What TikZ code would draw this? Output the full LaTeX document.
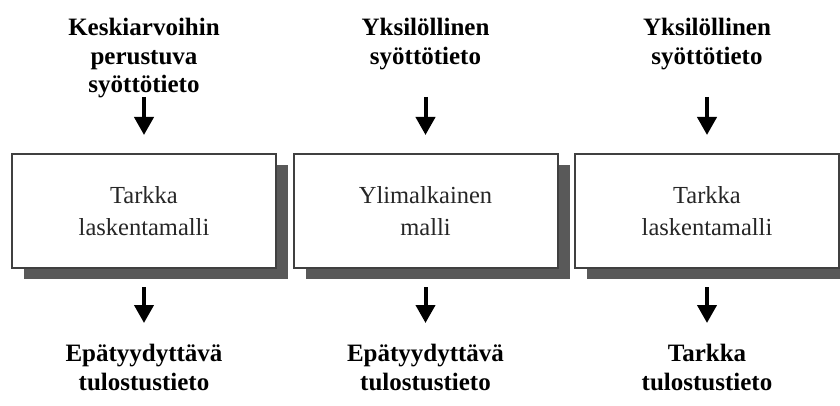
\documentclass[tikz,border=0pt]{standalone}
\usepackage{fontspec}
\setmainfont{Liberation Serif}
\usetikzlibrary{arrows.meta,shadows}

\begin{document}
\begin{tikzpicture}[x=1pt, y=1pt,
  model/.style={draw=black!75, line width=2pt, fill=white,
    minimum width=264pt, minimum height=114pt, align=center,
    text=black!85, font=\fontsize{24.5}{32}\selectfont,
    drop shadow={shadow xshift=12pt, shadow yshift=-11pt, fill=black!65, opacity=1}},
  data/.style={align=center, inner sep=0pt, text=black,
    font=\fontsize{25}{28.5}\selectfont\bfseries},
  flow/.style={line width=4pt, -{Triangle[width=19pt,length=18pt]}}]

  \useasboundingbox (0,0) rectangle (840,405);

  % one column per model: input, model, output
  \foreach \i/\cx/\intext/\boxtext/\outtext in {
    1/144/{Keskiarvoihin\\perustuva\\syöttötieto}/{Tarkka\\laskentamalli}/{Epätyydyttävä\\tulostustieto},
    2/425.5/{Yksilöllinen\\syöttötieto}/{Ylimalkainen\\malli}/{Epätyydyttävä\\tulostustieto},
    3/707/{Yksilöllinen\\syöttötieto}/{Tarkka\\laskentamalli}/{Tarkka\\tulostustieto}} {
    \node[model] (box\i) at (\cx,194) {\boxtext};
    \node[data, anchor=north] (in\i) at (\cx,387) {\intext};
    \node[data, anchor=north] (out\i) at (\cx,61) {\outtext};
    \coordinate (src\i) at (\cx,308);
    \coordinate (dst\i) at (\cx,82);
    \draw[flow, shorten >=18pt] (src\i) -- (box\i.north);
    \draw[flow, shorten <=18pt] (box\i.south) -- (dst\i);
  }
\end{tikzpicture}
\end{document}
